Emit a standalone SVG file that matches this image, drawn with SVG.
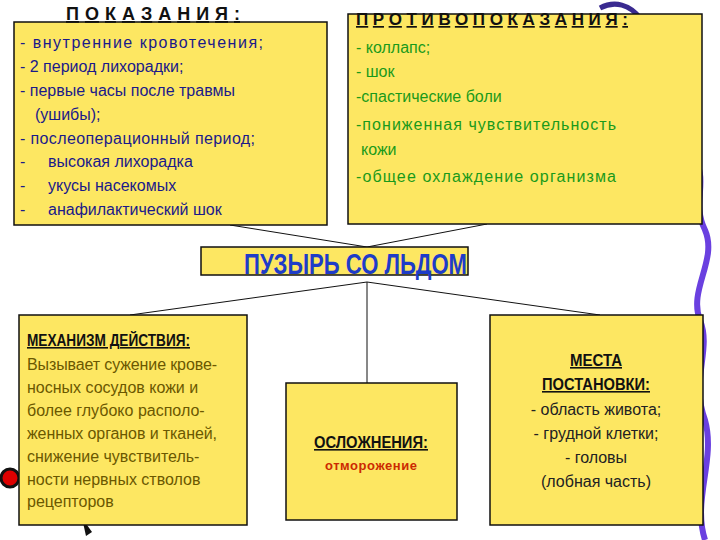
<svg xmlns="http://www.w3.org/2000/svg" width="720" height="540" viewBox="0 0 720 540">
<style>
.box{fill:#FDE762;stroke:#111;stroke-width:1.5}
.t{font-family:"Liberation Sans",Arial,sans-serif;font-size:16px}
.h{font-family:"Liberation Sans",Arial,sans-serif;font-weight:bold;text-decoration:underline;fill:#111}
.c{fill:none;stroke:#111;stroke-width:1}
</style>
<rect width="720" height="540" fill="#fff"/>
<path d="M690,150 C712,180 690,200 705,230 C718,260 688,290 700,320 C712,350 690,380 705,420 C716,460 692,500 705,540" fill="none" stroke="#6a40e0" stroke-width="6"/>
<path d="M600,8 C615,0 630,5 640,18" fill="none" stroke="#3a2a90" stroke-width="5"/>
<g id="blob1"><circle cx="10" cy="478" r="9" fill="#d00" stroke="#111" stroke-width="3"/></g>
<path d="M82,518 L92,532 L86,536 Z" fill="#111"/>
<g id="connectors">
<path class="c" d="M230,225 L367,247 L487,224"/>
<path class="c" d="M130,315 L367,282 L600,315 M367,282 L367,383"/>
</g>
<g id="indications">
<rect class="box" x="14" y="22" width="313" height="203"/>
<text class="h" x="66" y="20" font-size="18" textLength="174" lengthAdjust="spacing">ПОКАЗАНИЯ:</text>
<g class="t" fill="#1a1a8a">
<text x="20" y="48" textLength="243">- внутренние кровотечения;</text>
<text x="20" y="72">- 2 период лихорадки;</text>
<text x="20" y="96">- первые часы после травмы</text>
<text x="35" y="120">(ушибы);</text>
<text x="20" y="144" textLength="235">- послеоперационный период;</text>
<text x="20" y="167">-</text><text x="48" y="167">высокая лихорадка</text>
<text x="20" y="191">-</text><text x="48" y="191">укусы насекомых</text>
<text x="20" y="215">-</text><text x="48" y="215">анафилактический шок</text>
</g>
</g>
<g id="contra">
<rect class="box" x="348" y="14" width="354" height="210"/>
<text class="h" x="356" y="25" font-size="17" textLength="272" lengthAdjust="spacing">ПРОТИВОПОКАЗАНИЯ:</text>
<g class="t" fill="#1a9a1a" font-size="17">
<text x="356" y="53">- коллапс;</text>
<text x="356" y="77">- шок</text>
<text x="356" y="102">-спастические боли</text>
<text x="356" y="130" textLength="260">-пониженная чувствительность</text>
<text x="361" y="155">кожи</text>
<text x="356" y="182" textLength="260">-общее охлаждение организма</text>
</g>
</g>
<g id="title">
<rect class="box" x="201" y="247" width="267" height="28"/>
<text x="244" y="274" font-family="Liberation Sans,Arial,sans-serif" font-weight="bold" font-size="29" fill="#1e3cc8" textLength="223" lengthAdjust="spacingAndGlyphs">ПУЗЫРЬ СО ЛЬДОМ</text>
</g>
<g id="mechanism">
<rect class="box" x="19" y="315" width="228" height="210"/>
<text class="h" x="27" y="346" font-size="16" textLength="163" lengthAdjust="spacingAndGlyphs">МЕХАНИЗМ ДЕЙСТВИЯ:</text>
<g class="t" fill="#6b5800">
<text x="27" y="370" textLength="190">Вызывает сужение крове-</text>
<text x="27" y="393">носных сосудов кожи и</text>
<text x="27" y="416">более глубоко располо-</text>
<text x="27" y="439" textLength="190">женных органов и тканей,</text>
<text x="27" y="462">снижение чувствитель-</text>
<text x="27" y="485">ности нервных стволов</text>
<text x="27" y="507">рецепторов</text>
</g>
</g>
<g id="complications">
<rect class="box" x="286" y="383" width="171" height="137"/>
<text class="h" x="371" y="448" font-size="16" text-anchor="middle" textLength="114" lengthAdjust="spacingAndGlyphs">ОСЛОЖНЕНИЯ:</text>
<text x="371" y="470" font-family="Liberation Sans,Arial,sans-serif" font-weight="bold" font-size="13" fill="#cc2a00" text-anchor="middle" textLength="92">отморожение</text>
</g>
<g id="places">
<rect class="box" x="490" y="315" width="213" height="210"/>
<g text-anchor="middle">
<text class="h" x="596" y="366" font-size="16" textLength="52" lengthAdjust="spacingAndGlyphs">МЕСТА</text>
<text class="h" x="596" y="390" font-size="16" textLength="108" lengthAdjust="spacingAndGlyphs">ПОСТАНОВКИ:</text>
<g class="t" fill="#222">
<text x="596" y="415">- область живота;</text>
<text x="596" y="439">- грудной клетки;</text>
<text x="596" y="463">- головы</text>
<text x="596" y="487">(лобная часть)</text>
</g>
</g>
</g>
</svg>
